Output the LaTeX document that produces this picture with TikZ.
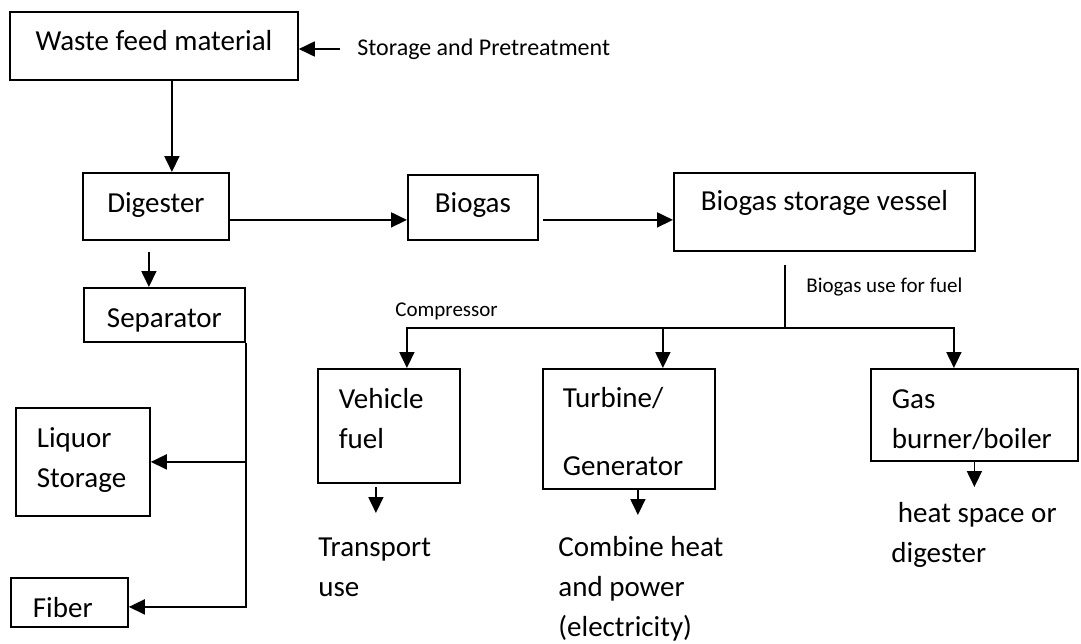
\documentclass[tikz,border=0pt]{standalone}
\usepackage{fontspec}
\setmainfont{Carlito}
\usetikzlibrary{arrows.meta}

\begin{document}
\begin{tikzpicture}[x=0.5pt, y=-0.5pt]
    % Define styles
    \tikzset{
        box/.style={draw, line width=0.9pt, anchor=north west, inner ysep=0pt,
            font=\fontsize{14.5}{20}\selectfont},
        onebox/.style={box, inner xsep=1pt},
        multibox/.style={box, align=left},
        flowtext/.style={anchor=north west, inner sep=0pt, align=left,
            font=\fontsize{14.5}{20}\selectfont},
        smalltext/.style={anchor=west, inner sep=0pt, font=\fontsize{10.5}{12}\selectfont},
        flow/.style={-{Triangle[length=8pt, width=7.5pt]}, line width=0.9pt},
        feedline/.style={line width=0.6pt}
    }
    \useasboundingbox (0,0) rectangle (1081,643);

    % Main line
    \node[onebox, minimum width=144pt, text height=19.5pt, text depth=14.5pt] (waste) at (9,11) {Waste feed material};
    \node[onebox, minimum width=73pt, text height=20pt, text depth=13.5pt] (dig) at (82,172) {Digester};
    \node[onebox, minimum width=65pt, text height=19pt, text depth=13.5pt] (bio) at (407,174) {Biogas};
    \node[onebox, minimum width=150.5pt, text height=19pt, text depth=20pt] (ves) at (673,172) {Biogas storage vessel};
    \node[onebox, minimum width=80.5pt, text height=20pt, text depth=7pt] (sep) at (83,287) {Separator};

    % Separator products
    \node[multibox, inner xsep=10.5pt, text width=46pt, text height=20pt, text depth=34pt] (liq) at (15,407) {Liquor\\Storage};
    \node[multibox, inner xsep=11pt, text width=36.5pt, text height=20pt, text depth=4.5pt] (fib) at (10,577) {Fiber};

    % Biogas uses
    \node[multibox, inner xsep=10.5pt, text width=50pt, text height=20pt, text depth=37pt] (veh) at (317,368) {Vehicle\\fuel};
    \node[multibox, inner xsep=10pt, text width=66pt, text height=19.5pt, text depth=40.5pt] (tur) at (542,368) {Turbine/\\[14pt]Generator};
    \node[multibox, inner xsep=10.5pt, text width=82.5pt, text height=20pt, text depth=26pt] (gas) at (870,368) {Gas\\burner/boiler};

    % Texts
    \node[smalltext, font=\fontsize{12}{14}\selectfont] (pre) at (357,49) {Storage and Pretreatment};
    \node[smalltext] (fueluse) at (806,287) {Biogas use for fuel};
    \node[smalltext] (comp) at (395,311) {Compressor};
    \node[flowtext] (trans) at (318,537) {Transport\\use};
    \node[flowtext] (chp) at (558,536) {Combine heat\\and power\\(electricity)};
    \node[flowtext] (heat) at (891,502) {\ heat space or\\digester};

    % Arrows
    \draw[flow] ([xshift=-8.5pt]pre.west) -- (pre.west -| waste.east);
    \draw[flow] ([xshift=9pt]waste.south) -- ([xshift=9pt]waste.south |- dig.north);
    \draw[flow] ([yshift=-6.75pt]dig.east) -- ([yshift=-6.75pt]dig.east -| bio.west);
    \draw[flow] ([xshift=2pt, yshift=-6.25pt]bio.east) -- ([yshift=-6.25pt]bio.east -| ves.west);
    \draw[flow] ([xshift=-3.5pt, yshift=-5.5pt]dig.south) -- ([xshift=-3.5pt]dig.south |- sep.north);

    % Separator outlets
    \draw[flow] (sep.south east) |- ([yshift=-2.25pt]fib.east);
    \draw[flow] (sep.south east |- liq.east) -- (liq.east);

    % Biogas use for fuel
    \coordinate (fuel) at ([xshift=-19.75pt, yshift=-6.5pt]ves.south);
    \coordinate (split) at ([yshift=-31.5pt]fuel);
    \draw[feedline] (fuel) -- (split);
    \draw[flow] (split) -| ([xshift=9pt]veh.north);
    \draw[flow] (split) -| ([xshift=17pt]tur.north);
    \draw[flow] (split) -| ([xshift=-10.25pt]gas.north);

    % End uses
    \draw[flow] ([xshift=-6.5pt, yshift=-1.5pt]veh.south) -- ([xshift=-6.5pt, yshift=12pt]veh.south |- trans.north);
    \draw[flow] ([xshift=4.5pt]tur.south) -- ([xshift=4.5pt, yshift=10.5pt]tur.south |- chp.north);
    \draw[flow] (gas.south) -- ([yshift=7.5pt]gas.south |- heat.north);

\end{tikzpicture}
\end{document}
